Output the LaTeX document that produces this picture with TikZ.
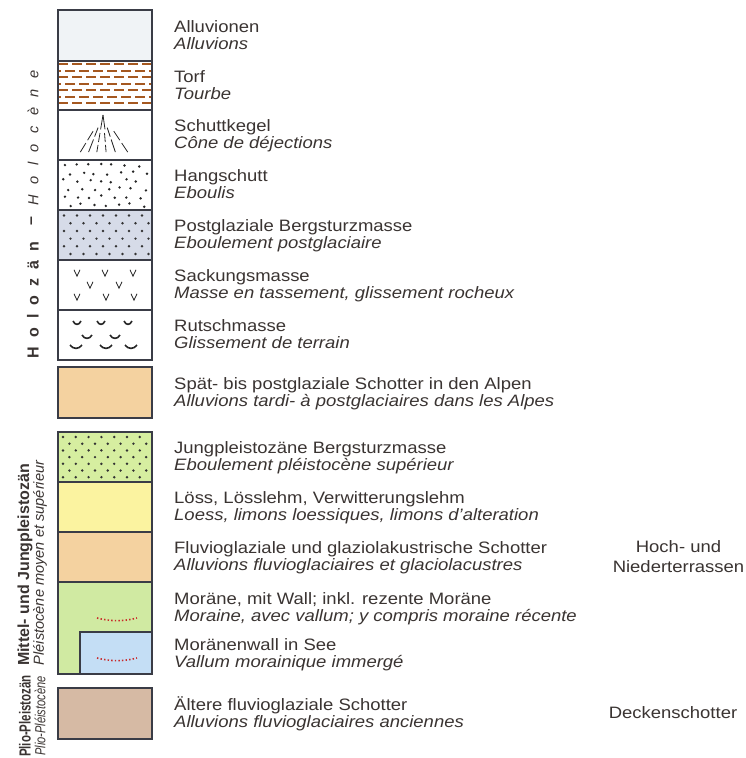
\documentclass[tikz,border=0pt]{standalone}
\usepackage{fontspec}
\setmainfont{Liberation Sans}[FakeStretch=1.12]
\newfontfamily\sidefont{Liberation Sans}
\usetikzlibrary{positioning, calc}

% colours of the legend
\definecolor{textgrey}{RGB}{58,52,50}
\definecolor{boxline}{RGB}{58,60,70}
\definecolor{alluvfill}{RGB}{240,243,246}
\definecolor{peatbrown}{RGB}{165,88,32}
\definecolor{rockfall}{RGB}{214,219,232}
\definecolor{gravel}{RGB}{244,210,160}
\definecolor{oldrock}{RGB}{214,238,160}
\definecolor{loess}{RGB}{251,243,160}
\definecolor{morgreen}{RGB}{208,234,162}
\definecolor{lakeblue}{RGB}{196,222,245}
\definecolor{oldgravel}{RGB}{214,186,164}
\definecolor{wallred}{RGB}{200,40,40}

% letter spacing for the epoch label
\newcommand{\lsde}{\kern9pt}
\newcommand{\lsfr}{\kern10.5pt}

\tikzset{
  legbox/.style={draw=boxline, line width=1.3pt},
  delabel/.style={anchor=base west, inner sep=0pt, text=textgrey,
    font=\fontsize{16.5}{18}\selectfont},
  frlabel/.style={delabel, font=\fontsize{16.5}{18}\selectfont\itshape},
  sidede/.style={rotate=90, inner sep=0pt, text=textgrey,
    font=\sidefont\bfseries\fontsize{16}{18}\selectfont},
  sidefr/.style={rotate=90, inner sep=0pt, text=textgrey,
    font=\sidefont\itshape\fontsize{14.6}{18}\selectfont},
  terrace/.style={anchor=base, inner sep=0pt, text=textgrey,
    font=\fontsize{16.5}{18}\selectfont},
  peatdash/.style={draw=peatbrown, line width=2pt, dash pattern=on 10pt off 4pt},
  raymark/.style={draw=black!85, line width=0.8pt},
  vmark/.style={draw=black!85, line width=0.8pt},
  slidemark/.style={draw=black!85, line width=1.6pt},
  wallmark/.style={draw=wallred, line width=1.6pt, dash pattern=on 1.4pt off 2.2pt}
}

\begin{document}
\begin{tikzpicture}[x=1pt, y=-1pt]
\path[fill=white] (0,0) rectangle (745,758);
\useasboundingbox (0,0) rectangle (745,758);

% ---------- box fills ----------
\fill[alluvfill] (58,10)  rectangle (152,61);
\fill[rockfall]  (58,210) rectangle (152,260);
\fill[gravel]    (58,367) rectangle (152,418);
\fill[oldrock]   (58,432) rectangle (152,482);
\fill[loess]     (58,482) rectangle (152,532);
\fill[gravel]    (58,532) rectangle (152,582);
\fill[morgreen]  (58,582) rectangle (152,674);
\fill[lakeblue]  (80,632) rectangle (152,674);
\fill[oldgravel] (58,688) rectangle (152,739);

% ---------- peat: staggered dashes ----------
\foreach \r in {0,...,6}{
  \pgfmathsetmacro\ty{64+6.5*\r}
  \pgfmathsetmacro\ph{mod(\r,2)*7}
  \draw[peatdash, dash phase=\ph pt] (58,\ty) -- (152,\ty);
}

% ---------- debris cone: broken rays ----------
\coordinate (apex) at (103,115);
\foreach \ex in {97,108}
  \draw[raymark] (apex) -- ($(apex)!0.4!(\ex,151)$);
\foreach \ex/\ta in {81/0.45, 89/0.35, 97/0.5, 106/0.5, 115/0.35, 127/0.45}
  \draw[raymark] ($(apex)!\ta!(\ex,151)$) -- ($(apex)!{\ta+0.25}!(\ex,151)$)
                 ($(apex)!{\ta+0.33}!(\ex,151)$) -- ($(apex)!1.03!(\ex,151)$);

% ---------- scree: loose dots ----------
\pgfmathsetseed{11}
\foreach \r in {0,...,5}{
  \foreach \k in {0,...,6}{
    \pgfmathsetmacro\px{63+\k*12.5+mod(\r,2)*6+rand*3}
    \pgfmathsetmacro\py{165+\r*8+rand*2}
    \fill[black!85] (\px,\py) circle (1.35);
  }
}

% ---------- post-glacial rockfall: dot grid ----------
\foreach \r in {0,...,5}{
  \foreach \k in {0,...,6}{
    \pgfmathsetmacro\px{64+\k*13+mod(\r,2)*6.5}
    \pgfmathsetmacro\py{215.5+\r*7.7}
    \fill[black!80] (\px,\py) circle (1.35);
  }
}

% ---------- sagging mass: v marks ----------
\foreach \vx/\vy in {77/273, 105/273, 133/273, 90/285, 119/285, 77/297, 106/297, 134/297}
  \draw[vmark] (\vx-3,\vy-3.2) -- (\vx,\vy+3.2) -- (\vx+3,\vy-3.2);

% ---------- landslide: arcs ----------
\foreach \ax/\ay/\w in {77/323/4, 101/323/4, 128/323/4, 87/337/5, 115/337/5,
                        76/347/6, 106/347/6, 131/347/6}
  \draw[slidemark] (\ax-\w,\ay-2) .. controls (\ax-\w/2,\ay+2.5) and (\ax+\w/2,\ay+2.5) .. (\ax+\w,\ay-2);

% ---------- late-pleistocene rockfall: dot grid ----------
\foreach \r in {0,...,6}{
  \foreach \k in {0,...,6}{
    \pgfmathsetmacro\px{63+\k*12.8+mod(\r,2)*6.4}
    \pgfmathsetmacro\py{437+\r*6.7}
    \fill[black!80] (\px,\py) circle (1.35);
  }
}

% ---------- moraine walls ----------
\draw[wallmark] (97,618) .. controls (110,621.5) and (124,621.5) .. (137,618);
\draw[wallmark] (97,658) .. controls (110,661.5) and (124,661.5) .. (137,658);

% ---------- box outlines ----------
\foreach \top/\bot in {10/61, 61/110, 110/160, 160/210, 210/260, 260/310, 310/360,
                       367/418, 432/482, 482/532, 532/582, 582/674, 688/739}
  \draw[legbox] (58,\top) rectangle (152,\bot);
\draw[legbox] (80,632) rectangle (152,674);

% ---------- entries (german / french) ----------
\node[delabel] (alluv-de) at (174,32) {Alluvionen};
\node[frlabel] (alluv-fr) at (174,49) {Alluvions};
\node[delabel] (peat-de) at (174,82) {Torf};
\node[frlabel] (peat-fr) at (174,99) {Tourbe};
\node[delabel] (cone-de) at (174,131.5) {Schuttkegel};
\node[frlabel] (cone-fr) at (174,148.5) {Cône de déjections};
\node[delabel] (scree-de) at (174,181.5) {Hangschutt};
\node[frlabel] (scree-fr) at (174,198.5) {Eboulis};
\node[delabel] (fall-de) at (174,231.5) {Postglaziale Bergsturzmasse};
\node[frlabel] (fall-fr) at (174,248.5) {Eboulement postglaciaire};
\node[delabel] (sag-de) at (174,281.5) {Sackungsmasse};
\node[frlabel] (sag-fr) at (174,298.5) {Masse en tassement, glissement rocheux};
\node[delabel] (slide-de) at (174,331.5) {Rutschmasse};
\node[frlabel] (slide-fr) at (174,348.5) {Glissement de terrain};
\node[delabel] (alps-de) at (174,389) {Spät- bis postglaziale Schotter in den Alpen};
\node[frlabel] (alps-fr) at (174,406) {Alluvions tardi- à postglaciaires dans les Alpes};
\node[delabel] (jung-de) at (174,453.5) {Jungpleistozäne Bergsturzmasse};
\node[frlabel] (jung-fr) at (174,470.5) {Eboulement pléistocène supérieur};
\node[delabel] (loess-de) at (174,503.5) {Löss, Lösslehm, Verwitterungslehm};
\node[frlabel] (loess-fr) at (174,520.5) {Loess, limons loessiques, limons d’alteration};
\node[delabel] (fluvio-de) at (174,553.5) {Fluvioglaziale und glaziolakustrische Schotter};
\node[frlabel] (fluvio-fr) at (174,570.5) {Alluvions fluvioglaciaires et glaciolacustres};
\node[delabel] (mor-de) at (174,604) {Moräne, mit Wall; inkl. rezente Moräne};
\node[frlabel] (mor-fr) at (174,621.5) {Moraine, avec vallum; y compris moraine récente};
\node[delabel] (wall-de) at (174,650) {Moränenwall in See};
\node[frlabel] (wall-fr) at (174,667.5) {Vallum morainique immergé};
\node[delabel] (old-de) at (174,710) {Ältere fluvioglaziale Schotter};
\node[frlabel] (old-fr) at (174,727) {Alluvions fluvioglaciaires anciennes};

% ---------- terrace groups ----------
\node[terrace] (hoch) at (678.5,552) {Hoch- und};
\node[terrace] (nieder) at (678.5,572) {Niederterrassen};
\node[terrace] (decken) at (673,718) {Deckenschotter};

% ---------- epochs ----------
\node[sidede] (holo-de) at (33,300) {H\lsde o\lsde l\lsde o\lsde z\lsde ä\lsde n};
\node[sidede] (holo-dash) at (33,221) {–};
\node[sidefr] (holo-fr) at (33,138) {H\lsfr o\lsfr l\lsfr o\lsfr c\lsfr è\lsfr n\lsfr e};
\node[sidede] (mid-de) at (25,565) {Mittel- und Jungpleistozän};
\node[sidefr] (mid-fr) at (40,563) {Pléistocène moyen et supérieur};
\node[sidede] (plio-de) at (25,716) {\scalebox{0.72}[1]{Plio-Pleistozän}};
\node[sidefr] (plio-fr) at (40,716) {\scalebox{0.76}[1]{Plio-Pléistocène}};

\end{tikzpicture}
\end{document}
